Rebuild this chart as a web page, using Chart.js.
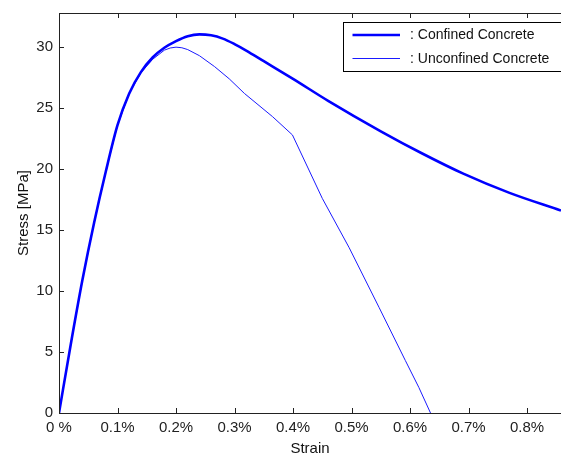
<!DOCTYPE html>
<html>
<head>
<meta charset="utf-8">
<script src="https://cdn.jsdelivr.net/npm/chart.js@4"></script>
<style>
  html, body { margin: 0; padding: 0; background: #fff; }
  #wrap { width: 561px; height: 455px; }
</style>
</head>
<body>
<div id="wrap"><canvas id="chart"></canvas></div>
<script>
// ==============================
// DATA (strain in %, stress in MPa)
// ==============================
const confinedStrain = [0, 0.02, 0.04, 0.06, 0.08, 0.10, 0.12, 0.14, 0.16, 0.18, 0.20, 0.22, 0.24, 0.26, 0.28, 0.30, 0.32, 0.35, 0.40, 0.46, 0.55, 0.62, 0.69, 0.77, 0.858];
const confinedStress = [0, 5.6, 10.9, 15.6, 19.8, 23.6, 26.2, 27.95, 29.15, 29.95, 30.5, 30.9, 31.05, 30.97, 30.7, 30.25, 29.72, 28.85, 27.4, 25.6, 23.1, 21.3, 19.65, 18.05, 16.6];

const unconfinedStrain = [0, 0.02, 0.04, 0.06, 0.08, 0.10, 0.12, 0.14, 0.16, 0.18, 0.19, 0.20, 0.21, 0.22, 0.24, 0.266, 0.291, 0.317, 0.365, 0.399, 0.45, 0.496, 0.547, 0.592, 0.615, 0.635];
const unconfinedStress = [0, 5.6, 10.9, 15.6, 19.8, 23.6, 26.2, 27.9, 29.0, 29.75, 29.93, 30.0, 29.95, 29.8, 29.3, 28.4, 27.4, 26.2, 24.3, 22.8, 17.6, 13.55, 8.66, 4.3, 2.1, 0];

const strainTicks = [0, 0.1, 0.2, 0.3, 0.4, 0.5, 0.6, 0.7, 0.8];
const stressTicks = [0, 5, 10, 15, 20, 25, 30];

const FONT = "'Liberation Sans', Arial, sans-serif";

function toPoints(xs, ys) {
  return xs.map((x, i) => ({ x: x, y: ys[i] }));
}

// ==============================
// MATLAB STYLE FRAME, INWARD TICKS, LEGEND
// ==============================
const framePlugin = {
  id: "frame",
  afterDraw(chart) {
    const ctx = chart.ctx;
    const a = chart.chartArea;
    const xs = chart.scales.x;
    const ys = chart.scales.y;
    ctx.save();
    ctx.strokeStyle = "#222";
    ctx.lineWidth = 1;
    ctx.beginPath();
    ctx.moveTo(a.right + 2, a.top + 0.5);
    ctx.lineTo(a.left + 0.5, a.top + 0.5);
    ctx.lineTo(a.left + 0.5, a.bottom + 0.5);
    ctx.lineTo(a.right + 2, a.bottom + 0.5);
    strainTicks.forEach(v => {
      const px = Math.round(xs.getPixelForValue(v)) + 0.5;
      ctx.moveTo(px, a.bottom);
      ctx.lineTo(px, a.bottom - 5);
      ctx.moveTo(px, a.top);
      ctx.lineTo(px, a.top + 5);
    });
    stressTicks.forEach(v => {
      const py = Math.round(ys.getPixelForValue(v)) + 0.5;
      ctx.moveTo(a.left, py);
      ctx.lineTo(a.left + 5, py);
    });
    ctx.stroke();

    // legend box (runs off the right edge like the reference)
    const bx = 343.5, by = 22.5, bh = 49;
    ctx.fillStyle = "#fff";
    ctx.fillRect(bx, by, 230, bh);
    ctx.strokeStyle = "#000";
    ctx.strokeRect(bx, by, 230, bh);
    ctx.font = "14px " + FONT;
    ctx.textBaseline = "middle";
    ctx.textAlign = "left";
    chart.data.datasets.forEach((ds, i) => {
      const ly = i === 0 ? 35 : 58.5;
      ctx.strokeStyle = ds.borderColor;
      ctx.lineWidth = ds.borderWidth;
      ctx.beginPath();
      ctx.moveTo(352.5, ly);
      ctx.lineTo(400, ly);
      ctx.stroke();
      ctx.fillStyle = "#111";
      ctx.fillText(ds.label, 410, ly + 0.5);
    });
    ctx.restore();
  }
};

new Chart(document.getElementById("chart"), {
  type: "line",
  data: {
    datasets: [
      {
        label: ": Confined Concrete",
        data: toPoints(confinedStrain, confinedStress),
        borderColor: "#0000ff",
        borderWidth: 2.6,
        pointRadius: 0,
        cubicInterpolationMode: "monotone"
      },
      {
        label: ": Unconfined Concrete",
        data: toPoints(unconfinedStrain, unconfinedStress),
        borderColor: "#1a1aff",
        borderWidth: 1,
        pointRadius: 0,
        tension: 0
      }
    ]
  },
  options: {
    responsive: true,
    maintainAspectRatio: false,
    animation: false,
    layout: { padding: { top: 13, right: 0, left: 0, bottom: 0 } },
    plugins: {
      legend: { display: false },
      tooltip: { enabled: false }
    },
    scales: {
      x: {
        type: "linear",
        min: 0,
        max: 0.858,
        afterFit: s => { s.height = 42; s.paddingLeft = 0; s.paddingRight = 0; },
        afterBuildTicks: s => { s.ticks = strainTicks.map(v => ({ value: v })); },
        grid: { display: false, drawTicks: false, tickLength: 0 },
        border: { display: false },
        ticks: {
          padding: 6,
          color: "#222",
          font: { family: FONT, size: 15 },
          callback: v => (v === 0 ? "0 %" : v.toFixed(1) + "%")
        },
        title: {
          display: true,
          text: "Strain",
          color: "#111",
          padding: { top: 0, bottom: -1 },
          font: { family: FONT, size: 15, lineHeight: 1 }
        }
      },
      y: {
        type: "linear",
        min: 0,
        max: 32.8,
        afterFit: s => { s.width = 59; s.paddingTop = 0; s.paddingBottom = 0; },
        afterBuildTicks: s => { s.ticks = stressTicks.map(v => ({ value: v })); },
        grid: { display: false, drawTicks: false, tickLength: 0 },
        border: { display: false },
        ticks: {
          padding: 6,
          color: "#222",
          font: { family: FONT, size: 15 }
        },
        title: {
          display: true,
          text: "Stress [MPa]",
          color: "#111",
          padding: { top: 16, bottom: 0 },
          font: { family: FONT, size: 15, lineHeight: 1 }
        }
      }
    }
  },
  plugins: [framePlugin]
});
</script>
</body>
</html>
